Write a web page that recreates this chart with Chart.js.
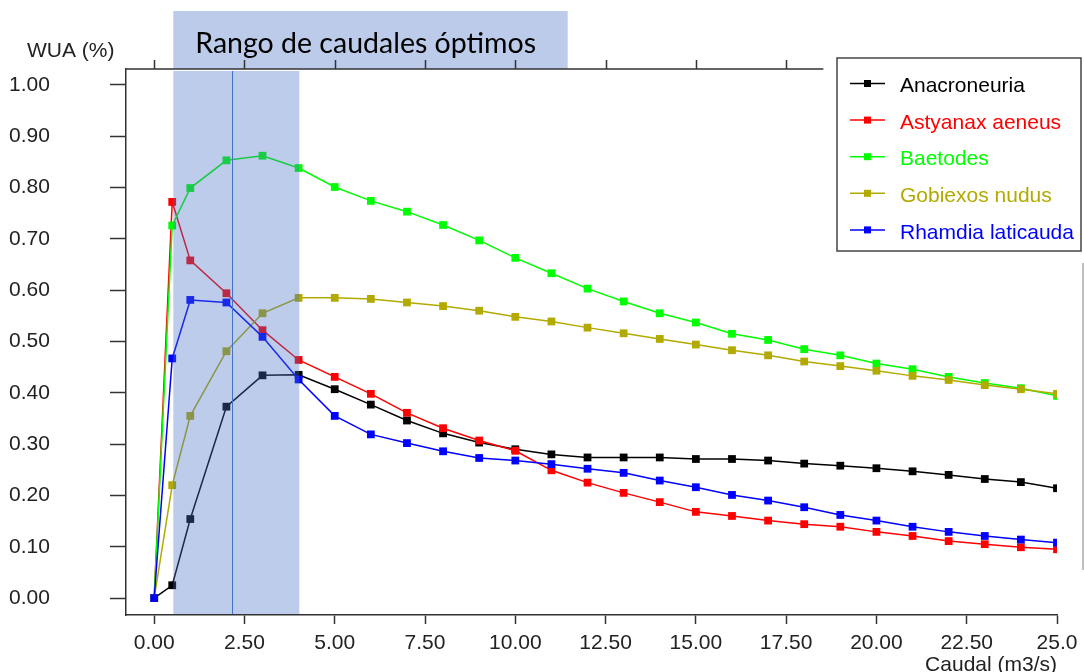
<!DOCTYPE html>
<html lang="es">
<head>
<meta charset="utf-8">
<title>WUA vs caudal</title>
<script src="https://cdn.jsdelivr.net/npm/chart.js@4.4.1/dist/chart.umd.min.js"></script>
<style>
  html, body { margin: 0; padding: 0; background: #fff; }
  #wrap { width: 1084px; height: 672px; }
</style>
</head>
<body>
<div id="wrap"><canvas id="wuaChart" width="1084" height="672"></canvas></div>
<script>
// Caudal (m3/s) y WUA por especie
const caudal = [0, 0.5, 1, 2, 3, 4, 5, 6, 7, 8, 9, 10, 11, 12, 13, 14, 15, 16, 17, 18, 19, 20, 21, 22, 23, 24, 25];
const anacroneuria = [0, 0.025, 0.154, 0.373, 0.434, 0.435, 0.407, 0.377, 0.346, 0.321, 0.303, 0.290, 0.280, 0.274, 0.274, 0.274, 0.271, 0.271, 0.268, 0.262, 0.258, 0.253, 0.247, 0.240, 0.232, 0.226, 0.214];
const astyanax = [0, 0.772, 0.658, 0.594, 0.522, 0.464, 0.431, 0.398, 0.361, 0.331, 0.307, 0.287, 0.249, 0.225, 0.205, 0.187, 0.168, 0.160, 0.151, 0.144, 0.139, 0.129, 0.121, 0.111, 0.105, 0.099, 0.095];
const baetodes = [0, 0.726, 0.799, 0.853, 0.862, 0.838, 0.801, 0.774, 0.753, 0.727, 0.697, 0.663, 0.633, 0.603, 0.578, 0.555, 0.537, 0.515, 0.503, 0.485, 0.473, 0.457, 0.446, 0.431, 0.419, 0.409, 0.394];
const gobiexos = [0, 0.220, 0.355, 0.481, 0.555, 0.585, 0.585, 0.583, 0.576, 0.569, 0.560, 0.548, 0.539, 0.527, 0.516, 0.505, 0.494, 0.483, 0.473, 0.461, 0.452, 0.443, 0.433, 0.425, 0.415, 0.407, 0.398];
const rhamdia = [0, 0.467, 0.581, 0.576, 0.509, 0.426, 0.355, 0.319, 0.302, 0.286, 0.273, 0.268, 0.261, 0.252, 0.244, 0.229, 0.216, 0.201, 0.190, 0.177, 0.162, 0.151, 0.139, 0.129, 0.121, 0.114, 0.108];

const seriesNames = ["Anacroneuria", "Astyanax aeneus", "Baetodes", "Gobiexos nudus", "Rhamdia laticauda"];
const seriesValues = [anacroneuria, astyanax, baetodes, gobiexos, rhamdia];
const seriesColors = ["#000000", "#ff0000", "#00ff00", "#b2aa00", "#0000ff"];

const xTicks = [0, 2.5, 5, 7.5, 10, 12.5, 15, 17.5, 20, 22.5, 25];
const yTicks = [0, 0.1, 0.2, 0.3, 0.4, 0.5, 0.6, 0.7, 0.8, 0.9, 1.0];

// rango optimo (en m3/s) y caudal marcado con la linea vertical
const optimoDesde = 0.53;
const optimoHasta = 4.02;
const etiquetaHasta = 11.45;
const caudalMarcado = 2.16;
const bordeSuperiorHasta = 18.53;

const FONT = '"Liberation Sans", Arial, sans-serif';
Chart.defaults.font.family = FONT;
Chart.defaults.font.size = 21;
Chart.defaults.color = "#222";

// sombreado, banda del titulo, eje superior y leyenda
const decoracion = {
  id: "decoracion",
  afterDatasetsDraw(chart) {
    const { ctx, chartArea: a, scales: { x } } = chart;
    const x0 = x.getPixelForValue(optimoDesde);
    const x1 = x.getPixelForValue(optimoHasta);
    ctx.save();
    ctx.fillStyle = "rgba(68,114,196,0.36)";
    ctx.fillRect(x0, a.top + 2, x1 - x0, a.bottom - a.top - 3);
    const xm = Math.round(x.getPixelForValue(caudalMarcado)) + 0.5;
    ctx.strokeStyle = "#4472c4";
    ctx.lineWidth = 1;
    ctx.beginPath();
    ctx.moveTo(xm, a.top + 2);
    ctx.lineTo(xm, a.bottom - 1);
    ctx.stroke();
    ctx.restore();
  },
  afterDraw(chart) {
    const { ctx, chartArea: a, scales: { x } } = chart;
    ctx.save();

    // banda "Rango de caudales optimos"
    const bx0 = x.getPixelForValue(optimoDesde);
    const bx1 = x.getPixelForValue(etiquetaHasta);
    ctx.fillStyle = "#bccbe9";
    ctx.fillRect(bx0, 11, bx1 - bx0, a.top - 11);
    ctx.fillStyle = "#000";
    ctx.font = '28.5px Lato, "Open Sans", sans-serif';
    ctx.textBaseline = "alphabetic";
    ctx.textAlign = "left";
    ctx.fillText("Rango de caudales óptimos", bx0 + 22, 53);

    // eje superior
    const topEnd = x.getPixelForValue(bordeSuperiorHasta);
    ctx.strokeStyle = "#333";
    ctx.lineWidth = 1.5;
    ctx.beginPath();
    ctx.moveTo(a.left, a.top);
    ctx.lineTo(topEnd, a.top);
    xTicks.forEach((v) => {
      const px = Math.round(x.getPixelForValue(v)) + 0.5;
      if (px <= topEnd) {
        ctx.moveTo(px, a.top);
        ctx.lineTo(px, a.top - 9);
      }
    });
    ctx.stroke();

    // titulo del eje Y
    ctx.fillStyle = "#222";
    ctx.font = "21px " + FONT;
    ctx.fillText("WUA (%)", 27, 57);

    // leyenda
    const lx = 837, ly = 58, lw = 244, lh = 193;
    ctx.fillStyle = "#fff";
    ctx.fillRect(lx, ly, lw, lh);
    ctx.strokeStyle = "#444";
    ctx.lineWidth = 1.5;
    ctx.strokeRect(lx, ly, lw, lh);
    ctx.textBaseline = "middle";
    seriesNames.forEach((name, i) => {
      const ry = 83.5 + i * 36.6;
      ctx.strokeStyle = seriesColors[i];
      ctx.lineWidth = 1.5;
      ctx.beginPath();
      ctx.moveTo(850, ry);
      ctx.lineTo(885, ry);
      ctx.stroke();
      ctx.fillStyle = seriesColors[i];
      ctx.fillRect(864, ry - 3.5, 7, 7);
      ctx.fillText(name, 900, ry + 3);
    });

    // borde derecho
    ctx.strokeStyle = "#aaa";
    ctx.lineWidth = 1.5;
    ctx.beginPath();
    ctx.moveTo(1083, 263);
    ctx.lineTo(1083, 570);
    ctx.stroke();

    ctx.restore();
  }
};

const ctx = document.getElementById("wuaChart").getContext("2d");
new Chart(ctx, {
  type: "line",
  data: {
    datasets: seriesNames.map((name, i) => ({
      label: name,
      data: caudal.map((c, j) => ({ x: c, y: seriesValues[i][j] })),
      borderColor: seriesColors[i],
      backgroundColor: seriesColors[i],
      borderWidth: 1.5,
      pointStyle: "rect",
      pointRadius: 5.5,
      pointHoverRadius: 5.5,
      pointBorderWidth: 0,
      tension: 0,
      fill: false,
      order: seriesNames.length - i
    }))
  },
  options: {
    responsive: false,
    animation: false,
    devicePixelRatio: 1,
    layout: { padding: { top: 69, right: 27, bottom: 0, left: 9 } },
    plugins: {
      legend: { display: false },
      tooltip: { enabled: false }
    },
    scales: {
      x: {
        type: "linear",
        min: -0.78,
        max: 25,
        afterBuildTicks: (s) => { s.ticks = xTicks.map((v) => ({ value: v })); },
        afterFit: (s) => { s.height = 57; s.paddingLeft = 0; s.paddingRight = 0; },
        ticks: {
          callback: (v) => (v === 25 ? "25.0" : v.toFixed(2)),
          padding: 7,
          maxRotation: 0,
          autoSkip: false,
          color: "#222"
        },
        grid: { drawOnChartArea: false, tickLength: 9, tickColor: "#333", tickWidth: 1.5 },
        border: { color: "#333", width: 1.5 },
        title: {
          display: true,
          text: "Caudal (m3/s)",
          align: "end",
          color: "#222",
          padding: 0,
          font: { size: 21, lineHeight: 0.6 }
        }
      },
      y: {
        min: -0.033,
        max: 1.031,
        afterBuildTicks: (s) => { s.ticks = yTicks.map((v) => ({ value: v })); },
        afterFit: (s) => { s.width = 117; s.paddingTop = 0; s.paddingBottom = 0; },
        ticks: {
          callback: (v) => v.toFixed(2),
          crossAlign: "far",
          padding: 4,
          color: "#222"
        },
        grid: { drawOnChartArea: false, tickLength: 16, tickColor: "#333", tickWidth: 1.5 },
        border: { color: "#333", width: 1.5 }
      }
    }
  },
  plugins: [decoracion]
});
</script>
</body>
</html>
